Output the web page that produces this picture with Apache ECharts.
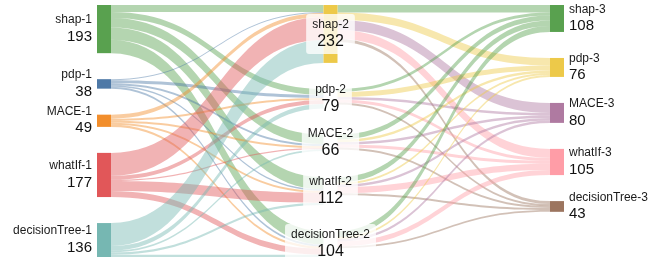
<!DOCTYPE html>
<html>
<head>
<meta charset="utf-8">
<script src="https://cdn.jsdelivr.net/npm/echarts@6/dist/echarts.min.js"></script>
<style>
  html, body { margin: 0; padding: 0; background: #fff; }
  #chart { width: 649px; height: 261px; }
</style>
</head>
<body>
<div id="chart"></div>
<script>
const stage1 = ['shap-1', 'pdp-1', 'MACE-1', 'whatIf-1', 'decisionTree-1']
const stage2 = ['shap-2', 'pdp-2', 'MACE-2', 'whatIf-2', 'decisionTree-2']
const stage3 = ['shap-3', 'pdp-3', 'MACE-3', 'whatIf-3', 'decisionTree-3']

// rows = source node, columns = target node (same order as the stage arrays)
const flows12 = [
  [28, 24, 38, 49, 54],
  [4, 12, 8, 6, 8],
  [16, 8, 8, 8, 9],
  [92, 16, 5, 40, 24],
  [92, 19, 7, 9, 9]
]
const flows23 = [
  [30, 30, 40, 36, 12],
  [12, 20, 10, 12, 8],
  [20, 10, 10, 12, 8],
  [22, 8, 10, 25, 8],
  [24, 8, 10, 20, 7]
]

const colors1 = ['#59a14f', '#4e79a7', '#f28e2c', '#e15759', '#76b7b2']
const colors2 = ['#edc949', 'rgba(255,255,255,0)', 'rgba(255,255,255,0)', 'rgba(255,255,255,0)', 'rgba(255,255,255,0)']
const colors3 = ['#59a14f', '#edc949', '#af7aa1', '#ff9da7', '#9c755f']

const rich = {
  n: { fontSize: 12, lineHeight: 15, color: '#1a1a1a', fontFamily: 'Liberation Sans' },
  v: { fontSize: 15, lineHeight: 18, color: '#111', fontFamily: 'Liberation Sans' }
}
const richMid = {
  n: { fontSize: 12, lineHeight: 15, color: '#1a1a1a', fontFamily: 'Liberation Sans' },
  v: { fontSize: 16, lineHeight: 19, color: '#111', fontFamily: 'Liberation Sans' }
}
const fmt = p => `{n|${p.name}}\n{v|${p.value}}`

const nodes = []
stage1.forEach((name, i) => {
  nodes.push({
    name,
    itemStyle: { color: colors1[i] },
    label: { position: 'left', distance: 5, align: 'right', formatter: fmt, rich }
  })
})
stage2.forEach((name, i) => {
  nodes.push({
    name,
    itemStyle: { color: colors2[i] },
    label: {
      position: 'inside', align: 'center', formatter: fmt, rich: richMid,
      backgroundColor: 'rgba(255,255,255,0.78)', padding: [3, 6], borderRadius: 3
    }
  })
})
stage3.forEach((name, i) => {
  nodes.push({
    name,
    itemStyle: { color: colors3[i] },
    label: { position: 'right', distance: 5, align: 'left', formatter: fmt, rich }
  })
})

const links = []
flows12.forEach((row, i) => {
  row.forEach((v, j) => {
    links.push({ source: stage1[i], target: stage2[j], value: v, lineStyle: { color: colors1[i] } })
  })
})
flows23.forEach((row, i) => {
  row.forEach((v, j) => {
    links.push({ source: stage2[i], target: stage3[j], value: v, lineStyle: { color: colors3[j] } })
  })
})

const chart = echarts.init(document.getElementById('chart'))
chart.setOption({
  animation: false,
  series: [{
    type: 'sankey',
    left: 97,
    right: 85,
    top: 5,
    bottom: 4,
    nodeWidth: 14,
    nodeGap: 26,
    layoutIterations: 0,
    draggable: false,
    emphasis: { disabled: true },
    lineStyle: { curveness: 0.5, opacity: 0.45 },
    data: nodes,
    links
  }]
})
</script>
</body>
</html>
